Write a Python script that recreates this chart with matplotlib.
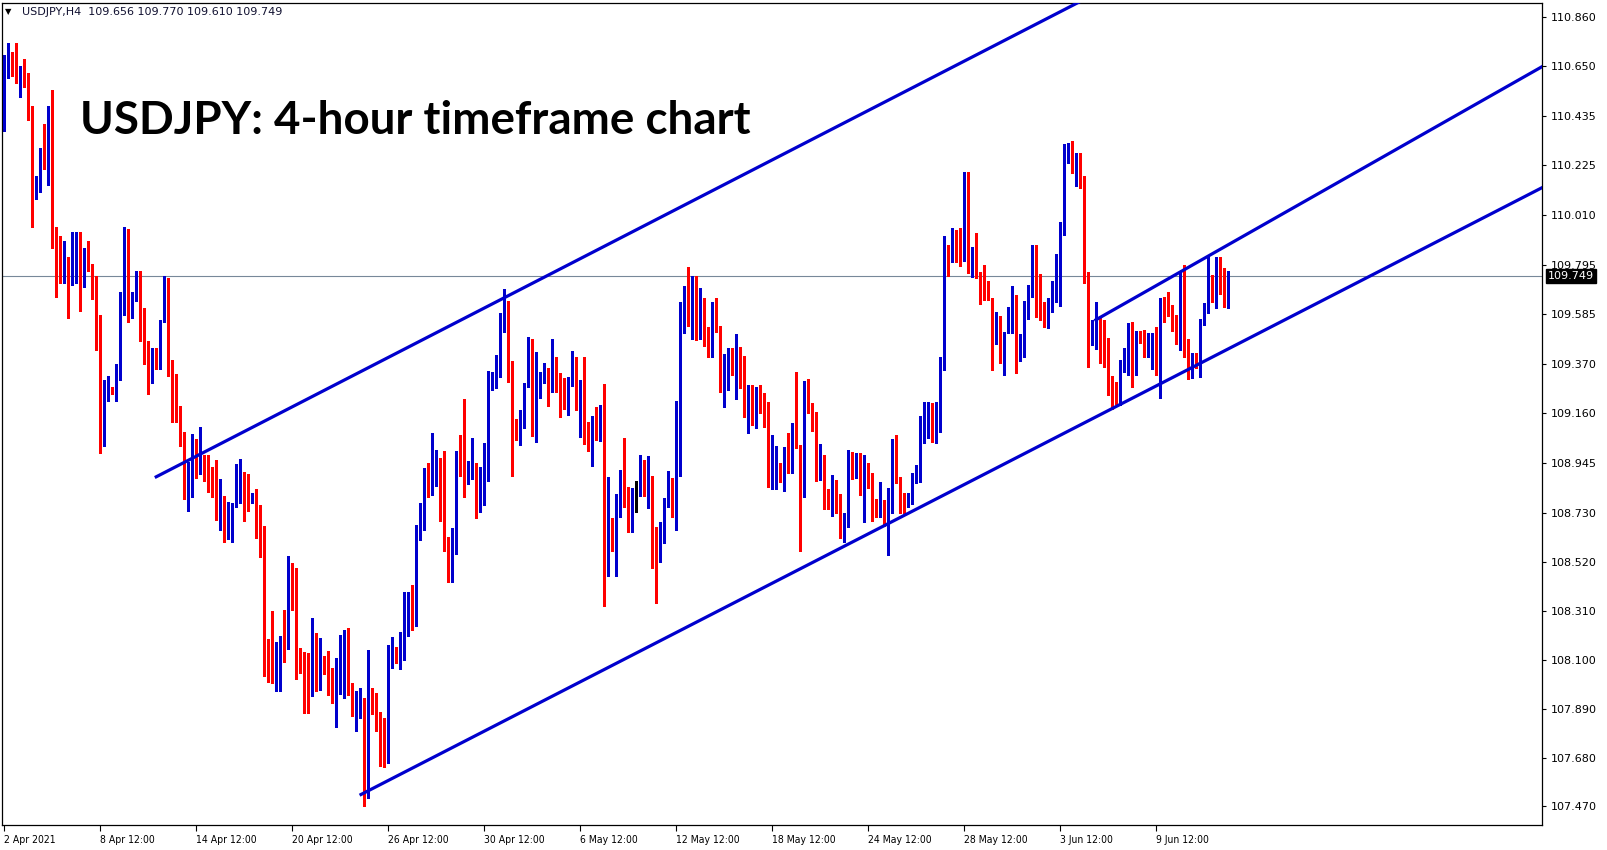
import matplotlib
matplotlib.use('Agg')
import matplotlib.pyplot as plt
import matplotlib.transforms as mtransforms

W, H, DPI = 1607, 850, 100

# ---------------- data (USDJPY H4 candles) ----------------
opens = [
 110.38, 110.61, 110.68, 110.63, 110.62, 110.65, 110.60, 110.48, 110.09, 110.17,
 110.27, 110.25, 110.40, 109.90, 109.88, 109.74, 109.78, 109.71, 109.85, 109.87,
 109.71, 109.84, 109.78, 109.67, 109.45, 109.08, 109.25, 109.27, 109.26, 109.37,
 109.66, 109.87, 109.64, 109.715, 109.76, 109.53, 109.47, 109.32, 109.40, 109.38,
 109.55, 109.70, 109.32, 109.29, 109.19, 109.06, 108.81, 108.95, 108.98, 108.948,
 108.95, 108.91, 108.877, 108.865, 108.769, 108.80, 108.694, 108.758, 108.758, 108.804,
 108.851, 108.847, 108.779, 108.79, 108.698, 108.66, 108.082, 108.082, 108.059, 108.131,
 108.176, 108.149, 108.474, 108.45, 108.128, 108.096, 108.085, 108.053, 108.207, 108.049,
 108.102, 108.073, 108.023, 107.963, 108.032, 108.116, 108.202, 107.956, 107.873, 107.896,
 107.91, 107.519, 107.973, 107.93, 107.876, 107.72, 107.705, 108.063, 108.125, 108.085,
 108.13, 108.23, 108.35, 108.27, 108.665, 108.665, 108.913, 108.844, 108.916, 108.959,
 108.847, 108.586, 108.45, 108.575, 108.976, 108.913, 108.89, 108.923, 108.933, 108.801,
 108.901, 108.973, 109.30, 109.274, 109.343, 109.582, 109.635, 109.374, 109.131, 109.066,
 109.099, 109.281, 109.42, 109.088, 109.277, 109.317, 109.328, 109.324, 109.357, 109.32,
 109.30, 109.188, 109.30, 109.395, 109.219, 109.30, 109.109, 109.085, 109.123, 109.066,
 109.128, 108.579, 108.661, 108.575, 108.741, 108.856, 108.784, 108.687, 108.808, 108.808,
 108.952, 108.808, 108.827, 108.569, 108.529, 108.604, 108.773, 108.859, 108.744, 108.99,
 109.629, 109.663, 109.603, 109.692, 109.563, 109.577, 109.467, 109.439, 109.582, 109.532,
 109.277, 109.32, 109.41, 109.277, 109.431, 109.388, 109.205, 109.267, 109.109, 109.214,
 109.214, 109.205, 108.851, 108.923, 108.944, 108.89, 109.002, 108.959, 109.052, 109.023,
 108.808, 109.221, 109.199, 109.162, 108.913, 108.98, 108.789, 108.765, 108.827, 108.772,
 108.626, 108.708, 108.984, 108.916, 108.98, 108.841, 108.915, 108.904, 108.789, 108.741,
 108.786, 108.712, 108.732, 108.98, 108.887, 108.765, 108.761, 108.772, 108.861, 108.912,
 109.087, 109.138, 109.159, 109.09, 109.17, 109.348, 109.875, 109.81, 109.925, 109.853,
 109.839, 110.193, 109.772, 109.825, 109.763, 109.663, 109.657, 109.649, 109.474, 109.577,
 109.402, 109.51, 109.574, 109.638, 109.431, 109.471, 109.617, 109.686, 109.858, 109.727,
 109.624, 109.563, 109.606, 109.71, 109.789, 109.958, 110.269, 110.29, 110.223, 110.264,
 110.14, 109.757, 109.491, 109.52, 109.577, 109.428, 109.366, 109.281, 109.276, 109.238,
 109.377, 109.409, 109.485, 109.391, 109.491, 109.491, 109.445, 109.477, 109.477, 109.399,
 109.649, 109.632, 109.62, 109.577, 109.481, 109.646, 109.428, 109.319, 109.414, 109.399,
 109.543, 109.629, 109.686, 109.624, 109.818, 109.753, 109.656]

highs = [
 110.70, 110.75, 110.71, 110.75, 110.65, 110.68, 110.62, 110.48, 110.18, 110.30,
 110.40, 110.48, 110.55, 109.96, 109.92, 109.90, 109.83, 109.94, 109.94, 109.94,
 109.87, 109.90, 109.80, 109.75, 109.58, 109.30, 109.32, 109.27, 109.37, 109.68,
 109.96, 109.95, 109.68, 109.77, 109.77, 109.61, 109.47, 109.44, 109.44, 109.56,
 109.75, 109.74, 109.39, 109.33, 109.19, 109.08, 108.95, 109.07, 109.05, 109.10,
 108.98, 108.98, 108.93, 108.958, 108.877, 108.804, 108.779, 108.775, 108.941, 108.963,
 108.907, 108.898, 108.818, 108.835, 108.765, 108.675, 108.188, 108.311, 108.178, 108.202,
 108.314, 108.546, 108.517, 108.493, 108.149, 108.135, 108.128, 108.278, 108.216, 108.192,
 108.116, 108.139, 108.063, 108.106, 108.207, 108.228, 108.235, 108.0, 107.967, 107.977,
 107.934, 108.142, 107.977, 107.956, 107.877, 107.849, 108.164, 108.197, 108.156, 108.221,
 108.39, 108.39, 108.42, 108.68, 108.773, 108.923, 108.947, 109.076, 109.002, 108.966,
 108.997, 108.629, 108.665, 108.995, 109.066, 109.221, 108.954, 109.052, 108.944, 108.93,
 109.03, 109.342, 109.338, 109.41, 109.589, 109.692, 109.643, 109.385, 109.133, 109.174,
 109.288, 109.489, 109.477, 109.424, 109.338, 109.374, 109.353, 109.477, 109.40, 109.331,
 109.31, 109.317, 109.427, 109.40, 109.30, 109.40, 109.123, 109.148, 109.188, 109.195,
 109.285, 108.887, 108.708, 108.813, 108.916, 109.052, 108.844, 108.837, 108.87, 108.98,
 108.959, 108.976, 108.89, 108.672, 108.69, 108.794, 108.909, 108.88, 109.214, 109.639,
 109.706, 109.787, 109.749, 109.749, 109.696, 109.656, 109.529, 109.639, 109.653, 109.535,
 109.414, 109.439, 109.439, 109.50, 109.446, 109.406, 109.281, 109.281, 109.271, 109.281,
 109.245, 109.209, 109.066, 109.019, 108.947, 109.016, 109.076, 109.119, 109.338, 109.023,
 109.298, 109.305, 109.202, 109.166, 109.027, 108.98, 108.832, 108.894, 108.872, 108.812,
 108.729, 109.001, 108.994, 108.987, 108.987, 108.98, 108.944, 108.904, 108.789, 108.865,
 108.786, 108.837, 109.047, 109.066, 108.887, 108.815, 108.818, 108.904, 108.937, 109.147,
 109.209, 109.209, 109.202, 109.209, 109.402, 109.921, 109.882, 109.954, 109.946, 109.954,
 110.197, 110.197, 109.875, 109.935, 109.767, 109.796, 109.729, 109.653, 109.596, 109.577,
 109.51, 109.617, 109.706, 109.667, 109.50, 109.641, 109.71, 109.882, 109.882, 109.757,
 109.639, 109.653, 109.729, 109.843, 109.982, 110.316, 110.319, 110.33, 110.276, 110.276,
 110.178, 109.767, 109.56, 109.639, 109.577, 109.56, 109.481, 109.319, 109.295, 109.388,
 109.438, 109.548, 109.553, 109.514, 109.514, 109.517, 109.505, 109.502, 109.531, 109.653,
 109.657, 109.682, 109.624, 109.581, 109.768, 109.796, 109.477, 109.42, 109.42, 109.563,
 109.634, 109.839, 109.753, 109.829, 109.832, 109.782, 109.770]

lows = [
 110.37, 110.60, 110.61, 110.58, 110.52, 110.56, 110.42, 109.96, 110.08, 110.11,
 110.21, 110.14, 109.87, 109.66, 109.72, 109.72, 109.57, 109.71, 109.72, 109.60,
 109.70, 109.77, 109.65, 109.43, 108.99, 109.02, 109.21, 109.24, 109.21, 109.30,
 109.58, 109.55, 109.57, 109.64, 109.47, 109.37, 109.24, 109.29, 109.35, 109.35,
 109.55, 109.32, 109.12, 109.12, 109.02, 108.79, 108.74, 108.80, 108.88, 108.90,
 108.87, 108.82, 108.80, 108.70, 108.658, 108.607, 108.619, 108.607, 108.758, 108.772,
 108.698, 108.741, 108.775, 108.622, 108.543, 108.03, 108.006, 108.002, 107.967, 107.967,
 108.092, 108.145, 108.314, 108.016, 108.045, 107.87, 107.873, 107.944, 107.967, 107.97,
 108.039, 107.949, 107.913, 107.81, 107.953, 107.934, 107.95, 107.859, 107.796, 107.849,
 107.472, 107.505, 107.867, 107.796, 107.644, 107.638, 107.658, 108.063, 108.085, 108.059,
 108.10, 108.20, 108.23, 108.245, 108.615, 108.658, 108.798, 108.808, 108.847, 108.698,
 108.569, 108.432, 108.436, 108.555, 108.89, 108.798, 108.856, 108.876, 108.708, 108.733,
 108.765, 108.866, 109.259, 109.267, 109.314, 109.51, 109.295, 108.89, 109.045, 109.023,
 109.095, 109.274, 109.062, 109.037, 109.224, 109.288, 109.191, 109.252, 109.252, 109.142,
 109.176, 109.152, 109.277, 109.174, 109.059, 109.027, 108.999, 108.933, 109.045, 109.042,
 108.331, 108.458, 108.569, 108.461, 108.713, 108.758, 108.647, 108.647, 108.733, 108.804,
 108.804, 108.751, 108.493, 108.346, 108.522, 108.601, 108.758, 108.715, 108.658, 108.89,
 109.506, 109.535, 109.477, 109.474, 109.477, 109.449, 109.403, 109.403, 109.51, 109.252,
 109.185, 109.26, 109.324, 109.22, 109.267, 109.142, 109.073, 109.109, 109.095, 109.159,
 109.099, 108.844, 108.833, 108.833, 108.862, 108.827, 108.904, 108.902, 109.009, 108.569,
 108.798, 109.159, 109.081, 108.87, 108.872, 108.746, 108.746, 108.718, 108.729, 108.622,
 108.608, 108.672, 108.875, 108.88, 108.808, 108.693, 108.837, 108.697, 108.715, 108.712,
 108.675, 108.55, 108.732, 108.861, 108.732, 108.732, 108.758, 108.769, 108.858, 108.865,
 109.033, 109.051, 109.037, 109.033, 109.08, 109.345, 109.749, 109.81, 109.81, 109.792,
 109.815, 109.76, 109.743, 109.739, 109.628, 109.646, 109.645, 109.345, 109.457, 109.374,
 109.323, 109.505, 109.503, 109.333, 109.385, 109.399, 109.563, 109.66, 109.574, 109.56,
 109.528, 109.524, 109.596, 109.638, 109.62, 109.925, 110.233, 110.193, 110.135, 110.125,
 109.72, 109.359, 109.452, 109.434, 109.376, 109.359, 109.238, 109.176, 109.199, 109.195,
 109.338, 109.323, 109.271, 109.323, 109.462, 109.402, 109.399, 109.348, 109.324, 109.223,
 109.553, 109.577, 109.514, 109.457, 109.431, 109.402, 109.305, 109.309, 109.352, 109.313,
 109.538, 109.591, 109.639, 109.61, 109.672, 109.617, 109.610]

closes = [
 110.68, 110.68, 110.64, 110.62, 110.65, 110.60, 110.48, 110.09, 110.17, 110.27,
 110.25, 110.40, 109.90, 109.88, 109.74, 109.78, 109.71, 109.86, 109.87, 109.71,
 109.85, 109.77, 109.67, 109.45, 109.08, 109.25, 109.27, 109.26, 109.37, 109.66,
 109.87, 109.64, 109.66, 109.76, 109.53, 109.47, 109.32, 109.41, 109.37, 109.55,
 109.70, 109.32, 109.28, 109.18, 109.06, 108.81, 108.95, 108.98, 108.95, 108.953,
 108.91, 108.87, 108.865, 108.769, 108.80, 108.69, 108.761, 108.762, 108.804, 108.851,
 108.847, 108.775, 108.791, 108.693, 108.658, 108.078, 108.073, 108.059, 108.156, 108.176,
 108.149, 108.479, 108.443, 108.121, 108.096, 108.082, 108.053, 108.211, 108.049, 108.099,
 108.063, 108.02, 107.963, 108.035, 108.125, 108.202, 107.956, 107.873, 107.896, 107.91,
 107.519, 107.973, 107.87, 107.873, 107.713, 107.705, 108.073, 108.125, 108.12, 108.131,
 108.23, 108.35, 108.27, 108.672, 108.701, 108.913, 108.847, 108.916, 108.959, 108.844,
 108.579, 108.45, 108.579, 108.976, 108.904, 108.893, 108.923, 108.93, 108.801, 108.904,
 108.976, 109.302, 109.328, 109.345, 109.582, 109.635, 109.371, 109.131, 109.066, 109.102,
 109.281, 109.42, 109.088, 109.281, 109.317, 109.328, 109.324, 109.357, 109.32, 109.295,
 109.188, 109.302, 109.391, 109.219, 109.30, 109.102, 109.085, 109.123, 109.066, 109.128,
 108.579, 108.658, 108.601, 108.744, 108.856, 108.78, 108.684, 108.808, 108.808, 108.952,
 108.808, 108.827, 108.565, 108.529, 108.615, 108.776, 108.859, 108.744, 108.999, 109.632,
 109.663, 109.603, 109.692, 109.563, 109.577, 109.463, 109.449, 109.582, 109.529, 109.277,
 109.324, 109.41, 109.36, 109.439, 109.386, 109.205, 109.262, 109.109, 109.214, 109.209,
 109.195, 108.851, 108.93, 108.937, 108.884, 109.002, 108.959, 109.052, 109.023, 108.808,
 109.221, 109.192, 109.109, 108.913, 108.984, 108.784, 108.761, 108.829, 108.769, 108.626,
 108.715, 108.987, 108.944, 108.98, 108.841, 108.915, 108.894, 108.789, 108.736, 108.786,
 108.712, 108.736, 108.98, 108.884, 108.761, 108.761, 108.775, 108.861, 108.912, 109.087,
 109.142, 109.159, 109.09, 109.173, 109.352, 109.878, 109.80, 109.925, 109.849, 109.839,
 110.197, 109.772, 109.868, 109.763, 109.66, 109.649, 109.649, 109.474, 109.571, 109.399,
 109.51, 109.577, 109.638, 109.434, 109.471, 109.624, 109.689, 109.858, 109.686, 109.617,
 109.553, 109.606, 109.714, 109.792, 109.958, 110.273, 110.286, 110.226, 110.264, 110.133,
 109.753, 109.488, 109.52, 109.571, 109.424, 109.362, 109.276, 109.273, 109.238, 109.381,
 109.409, 109.488, 109.391, 109.491, 109.485, 109.445, 109.477, 109.478, 109.399, 109.649,
 109.629, 109.617, 109.574, 109.485, 109.646, 109.424, 109.319, 109.414, 109.399, 109.543,
 109.631, 109.686, 109.677, 109.821, 109.753, 109.653, 109.749]

# x-axis labels every 24 bars
xtick_bars = [0, 24, 48, 72, 96, 120, 144, 168, 192, 216, 240, 264, 288]
xtick_labels = ['2 Apr 2021', '8 Apr 12:00', '14 Apr 12:00', '20 Apr 12:00',
                '26 Apr 12:00', '30 Apr 12:00', '6 May 12:00', '12 May 12:00',
                '18 May 12:00', '24 May 12:00', '28 May 12:00', '3 Jun 12:00',
                '9 Jun 12:00']
ytick_values = [110.860, 110.650, 110.435, 110.225, 110.010, 109.795, 109.585,
                109.370, 109.160, 108.945, 108.730, 108.520, 108.310, 108.100,
                107.890, 107.680, 107.470]

# trend lines: (bar index, price) endpoints
upper_channel = [(37.7, 108.883), (270.0, 110.937)]
lower_channel = [(88.9, 107.518), (390.0, 110.177)]
short_channel = [(272.6, 109.557), (390.0, 110.702)]
last_price = 109.749
symbol_header = 'USDJPY,H4  109.656 109.770 109.610 109.749'
title = 'USDJPY: 4-hour timeframe chart'

# ---------------- figure ----------------
fig = plt.figure(figsize=(W / DPI, H / DPI), dpi=DPI)
fig.patch.set_facecolor('white')
Lp, Rp, Tp, Bp = 2, 1542, 3, 825
ax = fig.add_axes([Lp / W, 1 - Bp / H, (Rp - Lp) / W, (Bp - Tp) / H])
ax.set_facecolor('white')
ax.set_xlim(-0.5, 384.5)
ax.set_ylim(107.390, 110.922)

RED = '#FF0000'
BLUE = '#0000CD'
n = min(len(opens), len(highs), len(lows), len(closes))
idx = list(range(n))
cols, bottoms, heights, hi, lo = [], [], [], [], []
for i in idx:
    o, h, l, c = opens[i], highs[i], lows[i], closes[i]
    if c > o:
        cols.append(BLUE)
    elif c < o:
        cols.append(RED)
    else:
        cols.append('black')
    bottoms.append(min(o, c))
    heights.append(max(abs(c - o), 0.0045))
    hi.append(max(h, o, c))
    lo.append(min(l, o, c))

ax.axhline(last_price, color='#778899', lw=0.8, zorder=1)
ax.vlines(idx, lo, hi, colors=cols, linewidth=0.75, zorder=2, antialiased=False)
ax.bar(idx, heights, bottom=bottoms, width=0.75, color=cols, linewidth=0,
       zorder=3, antialiased=False)

for line in (upper_channel, lower_channel, short_channel):
    xs = [p[0] for p in line]
    ys = [p[1] for p in line]
    ax.plot(xs, ys, color=BLUE, lw=2.3, solid_capstyle='butt', zorder=4)

for s in ax.spines.values():
    s.set_color('black')
    s.set_linewidth(0.9)

ax.yaxis.tick_right()
ax.set_yticks(ytick_values)
ax.set_yticklabels(['%.3f' % v for v in ytick_values])
ax.tick_params(axis='y', direction='out', length=3, width=0.8, pad=3,
               labelsize=8, colors='black')
ax.set_xticks(xtick_bars)
ax.set_xticklabels(xtick_labels, ha='left')
ax.tick_params(axis='x', direction='out', length=4, width=0.8, pad=3,
               labelsize=7.5, colors='black')
for lab in ax.get_xticklabels():
    lab.set_fontstretch('condensed')

# current price tag
tr = mtransforms.blended_transform_factory(ax.transAxes, ax.transData)
ax.text((1548 - Lp) / (Rp - Lp), last_price, '%.3f' % last_price, transform=tr,
        ha='left', va='center', color='white', fontsize=8, zorder=10,
        bbox=dict(boxstyle='square,pad=0.2', fc='black', ec='black'),
        clip_on=False)

# header
fig.text(5 / W, 1 - 12 / H, '\u25BC', fontsize=6, color='black', va='center')
fig.text(22 / W, 1 - 12 / H, symbol_header, fontsize=8, color='#101030', va='center')

# title
t = fig.text(80 / W, 1 - 134 / H, title, fontsize=37, fontweight='bold',
             family=['Lato', 'DejaVu Sans'], color='black', va='baseline')
fig.canvas.draw()
bb = t.get_window_extent()
t.set_fontsize(37 * 671.0 / bb.width)

fig.savefig('out.png', dpi=DPI, facecolor='white')
